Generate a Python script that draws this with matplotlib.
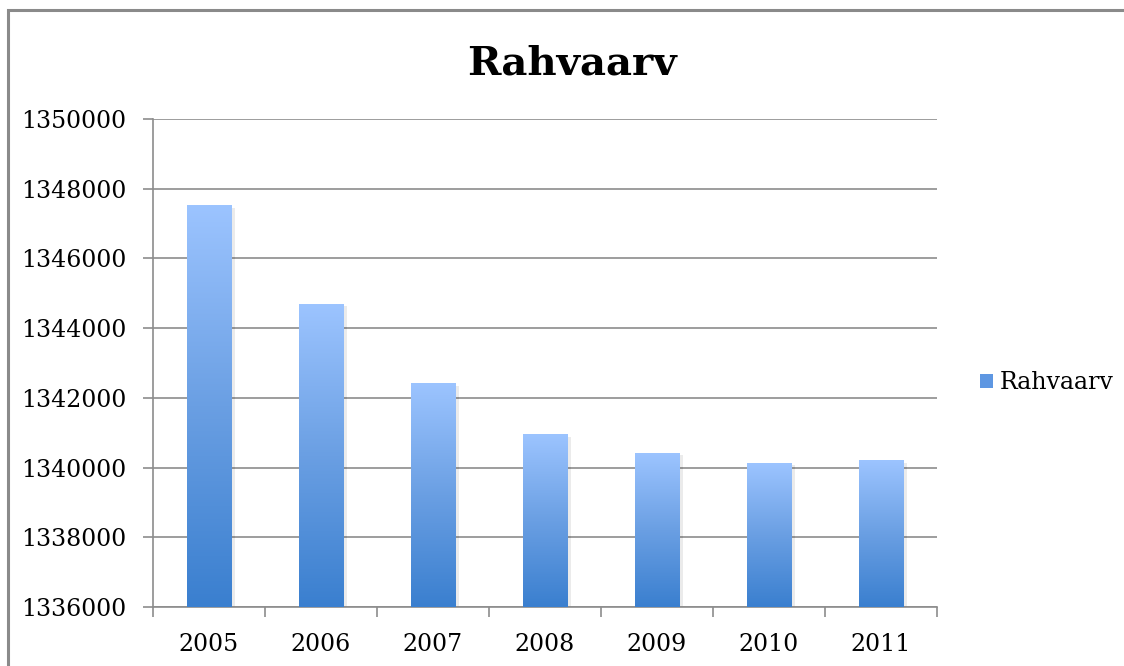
import numpy as np
import matplotlib.pyplot as plt
from matplotlib.patches import Rectangle, Patch
from matplotlib.colors import LinearSegmentedColormap

# rahvaarv aastate kaupa
years = ['2005', '2006', '2007', '2008', '2009', '2010', '2011']
population = [1347510, 1344684, 1342409, 1340935, 1340415, 1340127, 1340194]
series_name = 'Rahvaarv'

y_min, y_max, y_step = 1336000, 1350000, 2000

plt.rcParams['font.family'] = ['DejaVu Serif']

fig = plt.figure(figsize=(11.24, 6.66), dpi=100)
ax = fig.add_axes([0.1361, 0.0886, 0.6975, 0.7327])

grad = LinearSegmentedColormap.from_list('bar', ['#3a7fcf', '#6a9fe3', '#9cc4ff'])
ramp = np.linspace(0, 1, 256).reshape(-1, 1)

width = 0.4
x = np.arange(len(years))
for xi, val in zip(x, population):
    # shadow
    ax.add_patch(Rectangle((xi - width / 2 + 0.03, y_min), width, val - y_min - 60,
                           facecolor='#000000', alpha=0.08, edgecolor='none', zorder=2))
    ax.imshow(ramp, cmap=grad, origin='lower', aspect='auto',
              extent=[xi - width / 2, xi + width / 2, y_min, val], zorder=3)

ax.set_xlim(-0.5, len(years) - 0.5)
ax.set_ylim(y_min, y_max)

ax.set_yticks(np.arange(y_min, y_max + 1, y_step))
ax.set_yticklabels([str(v) for v in range(y_min, y_max + 1, y_step)])
ax.yaxis.grid(True, color='#8c8c8c', linewidth=1.2)
ax.set_axisbelow(True)

ax.set_xticks(np.arange(-0.5, len(years), 1.0))
ax.set_xticklabels([])
ax.set_xticks(x, minor=True)
ax.set_xticklabels(years, minor=True)
ax.tick_params(axis='x', which='minor', length=0, pad=19, labelsize=17)
ax.tick_params(axis='x', which='major', length=7, width=1.2, color='#8c8c8c')
ax.tick_params(axis='y', length=7, width=1.2, color='#8c8c8c', labelsize=17, pad=12)

for side in ['top', 'right']:
    ax.spines[side].set_visible(False)
for side in ['left', 'bottom']:
    ax.spines[side].set_color('#8c8c8c')
    ax.spines[side].set_linewidth(1.2)

fig.text(0.509, 0.905, 'Rahvaarv', ha='center', va='center',
         fontsize=29, fontweight='bold')

fig.legend(handles=[Patch(facecolor='#5e97e2', edgecolor='none', label=series_name)],
           loc='center left', bbox_to_anchor=(0.853, 0.425), frameon=False,
           fontsize=17, handlelength=0.55, handleheight=0.55, handletextpad=0.3)

# rama ümber
fig.add_artist(Rectangle((0.0071, -0.05), 1.1, 1.035, transform=fig.transFigure,
                         fill=False, edgecolor='#8a8a8a', linewidth=2.2))

fig.savefig('out.png', dpi=100)
